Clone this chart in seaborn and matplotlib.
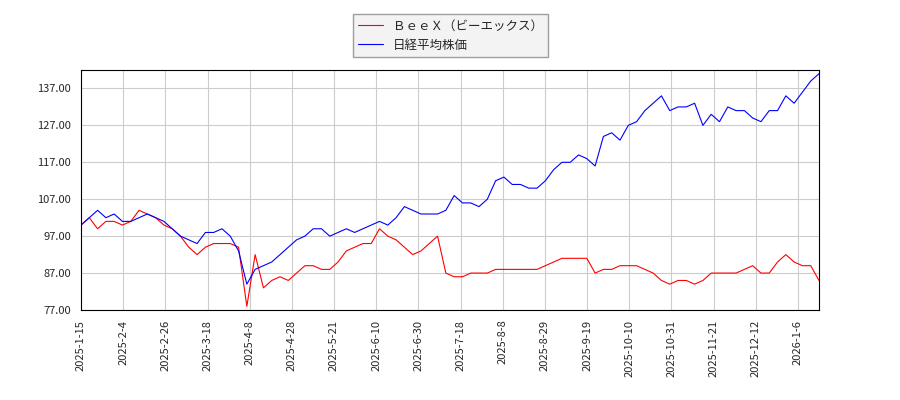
import numpy as np
import pandas as pd
import matplotlib
matplotlib.use('Agg')
import matplotlib.pyplot as plt
import seaborn as sns
from matplotlib.ticker import FormatStrFormatter

sns.set_style('white')
plt.rcParams['font.family'] = ['Noto Sans CJK JP', 'DejaVu Sans']

tick_labels = ['2025-1-15', '2025-2-4', '2025-2-26', '2025-3-18', '2025-4-8', '2025-4-28',
               '2025-5-21', '2025-6-10', '2025-6-30', '2025-7-18', '2025-8-8', '2025-8-29',
               '2025-9-19', '2025-10-10', '2025-10-31', '2025-11-21', '2025-12-12', '2026-1-6']

beex = [100, 102, 99, 101, 101, 100, 101, 104, 103, 102, 100, 99, 97, 94, 92,
        94, 95, 95, 95, 94, 78, 92, 83, 85, 86, 85, 87, 89, 89, 88,
        88, 90, 93, 94, 95, 95, 99, 97, 96, 94, 92, 93, 95, 97, 87,
        86, 86, 87, 87, 87, 88, 88, 88, 88, 88, 88, 89, 90, 91, 91,
        91, 91, 87, 88, 88, 89, 89, 89, 88, 87, 85, 84, 85, 85, 84,
        85, 87, 87, 87, 87, 88, 89, 87, 87, 90, 92, 90, 89, 89, 85]

nikkei = [100, 102, 104, 102, 103, 101, 101, 102, 103, 102, 101, 99, 97, 96, 95,
          98, 98, 99, 97, 93, 84, 88, 89, 90, 92, 94, 96, 97, 99, 99,
          97, 98, 99, 98, 99, 100, 101, 100, 102, 105, 104, 103, 103, 103, 104,
          108, 106, 106, 105, 107, 112, 113, 111, 111, 110, 110, 112, 115, 117, 117,
          119, 118, 116, 124, 125, 123, 127, 128, 131, 133, 135, 131, 132, 132, 133,
          127, 130, 128, 132, 131, 131, 129, 128, 131, 131, 135, 133, 136, 139, 141]

n_days = 245
df = pd.DataFrame({
    'x': np.linspace(0, n_days, len(beex)),
    'ＢｅｅＸ（ビーエックス）': beex,
    '日経平均株価': nikkei,
})
long = df.melt(id_vars='x', var_name='series', value_name='value')

fig, ax = plt.subplots(figsize=(9, 4), dpi=100)
sns.lineplot(data=long, x='x', y='value', hue='series',
             palette=['red', 'blue'], linewidth=0.8, ax=ax)

ax.set_xlim(0, n_days)
ax.set_ylim(77, 142)
ax.set_yticks(np.arange(77, 138, 10))
ax.yaxis.set_major_formatter(FormatStrFormatter('%.2f'))
ax.set_xticks(np.arange(len(tick_labels)) * 14)
ax.set_xticklabels(tick_labels, rotation=90)
ax.tick_params(labelsize=8)
ax.set_xlabel('')
ax.set_ylabel('')
ax.grid(True, color='#cccccc', linewidth=0.8)
for s in ax.spines.values():
    s.set_color('black')

ax.legend(loc='lower center', bbox_to_anchor=(0.5, 1.03), fontsize=9,
          frameon=True, fancybox=False, edgecolor='#888888', facecolor='#f0f0f0')

plt.subplots_adjust(left=0.09, right=0.91, top=0.825, bottom=0.225)
fig.savefig('out.png')
